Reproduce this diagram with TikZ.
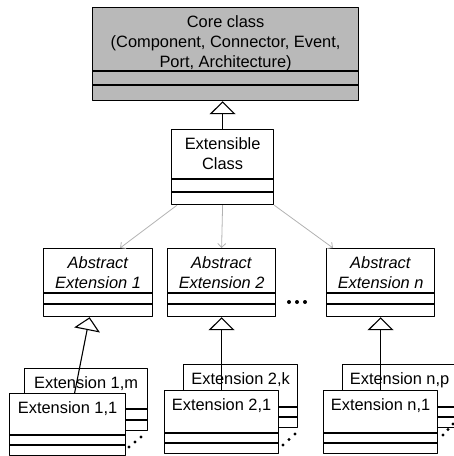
\documentclass[tikz,border=0pt]{standalone}
\usepackage{fontspec}
\setmainfont{Liberation Sans}
\usetikzlibrary{arrows.meta}
\begin{document}
\begin{tikzpicture}[x=1pt,y=-1pt,line join=round,
  cls/.style={draw,line width=1.2pt,fill=white,inner sep=0pt,anchor=north west},
  lbl/.style={anchor=north,inner sep=0pt,align=center,font=\fontsize{16.4}{20}\selectfont},
  gen/.style={-{Triangle[open,length=13pt,width=26pt]},line width=1.1pt},
  dep/.style={-{Straight Barb[length=4pt,width=8pt]},draw=gray!60,line width=.8pt}]
\useasboundingbox (0,0) rectangle (454,456);
\clip (0,0) rectangle (454,456);
% name/x1/y1/x2/y2/sep1/sep2/fill/text
\foreach \nm/\xa/\ya/\xb/\yb/\sa/\sb/\fl/\txt in {
  core/92/7/358/100/71/85/gray!55/{Core class\\(Component, Connector, Event,\\Port, Architecture)},
  ext/171/129/273/204/179/192/white/{Extensible\\Class},
  abs1/43/248/152/316/293/304/white/{\textit{Abstract}\\\textit{Extension 1}},
  abs2/167/248/275/316/293/304/white/{\textit{Abstract}\\\textit{Extension 2}},
  absn/326/248/434/316/293/304/white/{\textit{Abstract}\\\textit{Extension n}},
  e1m/24/368/147/430/409/420/white/{Extension 1,m},
  e2k/183/364/297/427/407/417/white/{Extension 2,k},
  enp/342/364/456/427/407/417/white/{Extension n,p},
  e11/9/393/125/455/435/445/white/{Extension 1,1},
  e21/164/390/278/453/433/443/white/{Extension 2,1},
  en1/323/390/437/453/433/443/white/{Extension n,1}}{
  \node[cls,fill=\fl,minimum width={(\xb-\xa)*1pt},minimum height={(\yb-\ya)*1pt}] (\nm) at (\xa,\ya) {};
  \draw[line width=1.2pt] (\xa,\sa) -- (\xb,\sa) (\xa,\sb) -- (\xb,\sb);
  \node[lbl] (\nm-t) at ([yshift=-8pt]\nm.north) {\txt};
}
\draw[gen] (ext.north) -- (ext.north |- core.south);
\draw[dep] ([xshift=6pt]ext.south west) -- ([xshift=22pt]abs1.north);
\draw[dep] (ext.south) -- (abs2.north);
\draw[dep] (ext.south east) -- ([xshift=7pt]absn.north west);
\draw[gen] ([xshift=7pt]e11.north) -- ([xshift=-8.5pt]abs1.south);
\draw[gen] (e21.north) -- (abs2.south);
\draw[gen] (en1.north) -- (absn.south);
% dots
\foreach \x in {289,297,305} \fill (\x,302) circle (2pt);
\foreach \x/\y in {129/447,135/442,141/437,283/445,289/439.5,295/434,443/435,448/429.5,453/424}
  \fill (\x,\y) circle (1.7pt);
\end{tikzpicture}
\end{document}
